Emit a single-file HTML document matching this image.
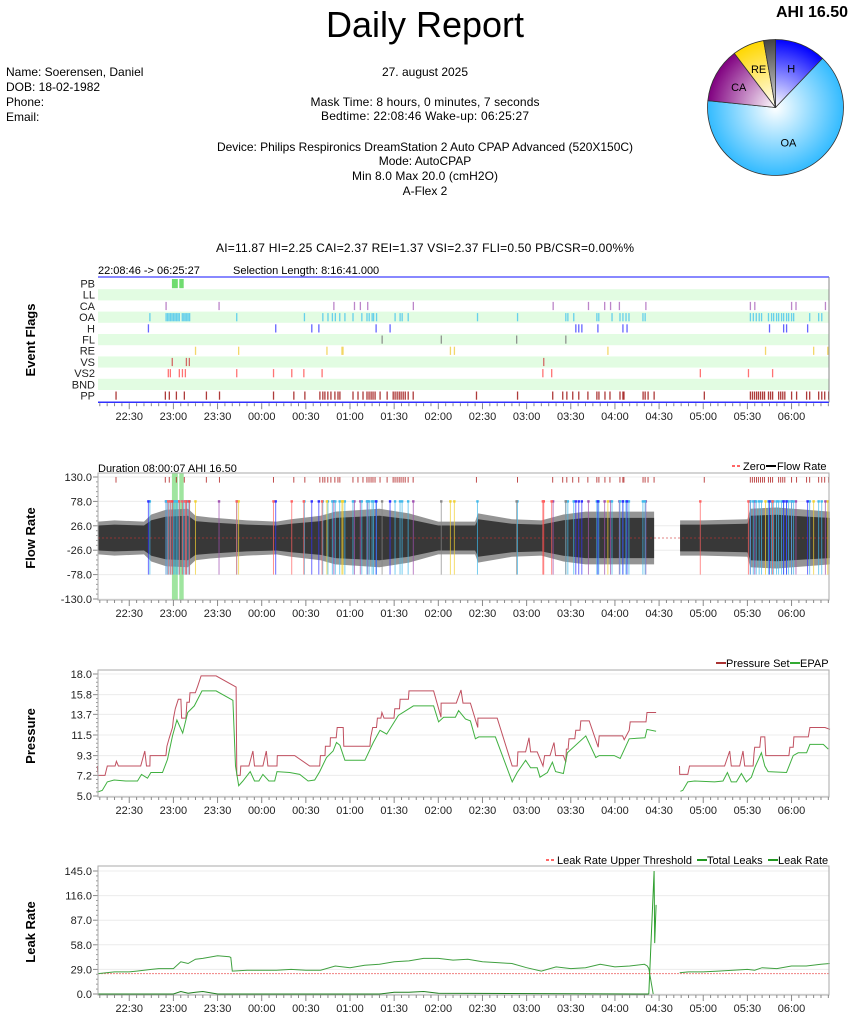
<!DOCTYPE html>
<html><head><meta charset="utf-8"><title>Daily Report</title>
<style>
html,body{margin:0;padding:0;background:#fff;}
svg{display:block;font-family:"Liberation Sans",sans-serif;}
.t{font-size:12px;fill:#000;}
.tick{font-size:11px;fill:#222;}
.yt{font-size:13px;font-weight:bold;fill:#000;}
</style></head><body>
<svg id="root" width="854" height="1021" viewBox="0 0 854 1021" xmlns="http://www.w3.org/2000/svg">
<defs>
<radialGradient id="gH" cx="0" cy="0" r="68" gradientUnits="userSpaceOnUse" gradientTransform="translate(775.5,107.5)"><stop offset="0" stop-color="#fff"/><stop offset="1" stop-color="#0000ff"/></radialGradient>
<radialGradient id="gOA" cx="0" cy="0" r="68" gradientUnits="userSpaceOnUse" gradientTransform="translate(775.5,107.5)"><stop offset="0" stop-color="#fff"/><stop offset="1" stop-color="#33bbff"/></radialGradient>
<radialGradient id="gCA" cx="0" cy="0" r="68" gradientUnits="userSpaceOnUse" gradientTransform="translate(775.5,107.5)"><stop offset="0" stop-color="#fff"/><stop offset="1" stop-color="#800080"/></radialGradient>
<radialGradient id="gRE" cx="0" cy="0" r="68" gradientUnits="userSpaceOnUse" gradientTransform="translate(775.5,107.5)"><stop offset="0" stop-color="#fff"/><stop offset="1" stop-color="#ffd700"/></radialGradient>
<radialGradient id="gFL" cx="0" cy="0" r="68" gradientUnits="userSpaceOnUse" gradientTransform="translate(775.5,107.5)"><stop offset="0" stop-color="#ddd"/><stop offset="1" stop-color="#444"/></radialGradient>
</defs>

<text x="425" y="37" text-anchor="middle" style="font-size:36px">Daily Report</text>
<text x="848" y="17" text-anchor="end" style="font-size:16px;font-weight:bold">AHI 16.50</text>

<text class="t" x="6" y="76">Name:  Soerensen, Daniel</text>
<text class="t" x="6" y="91">DOB: 18-02-1982</text>
<text class="t" x="6" y="106">Phone:</text>
<text class="t" x="6" y="121">Email:</text>

<text class="t" x="425" y="76" text-anchor="middle">27. august 2025</text>
<text class="t" x="425" y="106" text-anchor="middle" textLength="229">Mask Time: 8 hours, 0 minutes, 7 seconds</text>
<text class="t" x="425" y="120" text-anchor="middle" textLength="208">Bedtime: 22:08:46 Wake-up: 06:25:27</text>
<text class="t" x="425" y="151" text-anchor="middle" textLength="416">Device: Philips Respironics DreamStation 2 Auto CPAP Advanced (520X150C)</text>
<text class="t" x="425" y="165" text-anchor="middle">Mode: AutoCPAP</text>
<text class="t" x="425" y="180" text-anchor="middle" textLength="146">Min 8.0 Max 20.0 (cmH2O)</text>
<text class="t" x="425" y="195" text-anchor="middle">A-Flex 2</text>
<text class="t" x="425" y="252" text-anchor="middle" textLength="418">AI=11.87 HI=2.25 CAI=2.37 REI=1.37 VSI=2.37 FLI=0.50 PB/CSR=0.00%%</text>

<g id="pie"></g>

<text class="t" x="98" y="274" style="font-size:11px">22:08:46 -&gt; 06:25:27</text>
<text class="t" x="233" y="274" style="font-size:11px">Selection Length: 8:16:41.000</text>
<text class="yt" transform="translate(35,340) rotate(-90)" text-anchor="middle">Event Flags</text>
<g id="flags"></g>

<text class="t" x="98" y="472" style="font-size:11px">Duration 08:00:07 AHI 16.50</text>
<text class="yt" transform="translate(35,538) rotate(-90)" text-anchor="middle">Flow Rate</text>
<g>
<line x1="732" y1="466" x2="742" y2="466" stroke="#f33" stroke-dasharray="3,2" stroke-width="1.5"/>
<text class="t" x="743" y="470" style="font-size:11px">Zero</text>
<line x1="766" y1="466" x2="776" y2="466" stroke="#000" stroke-width="2"/>
<text class="t" x="777" y="470" style="font-size:11px">Flow Rate</text>
</g>
<g id="flow"></g>

<text class="yt" transform="translate(35,736) rotate(-90)" text-anchor="middle">Pressure</text>
<g>
<line x1="716" y1="663" x2="726" y2="663" stroke="#a33" stroke-width="2"/>
<text class="t" x="726" y="667" style="font-size:11px">Pressure Set</text>
<line x1="790" y1="663" x2="800" y2="663" stroke="#3a3" stroke-width="2"/>
<text class="t" x="800" y="667" style="font-size:11px">EPAP</text>
</g>
<g id="press"></g>

<text class="yt" transform="translate(35,932) rotate(-90)" text-anchor="middle">Leak Rate</text>
<g>
<line x1="546" y1="860" x2="556" y2="860" stroke="#f33" stroke-dasharray="3,2" stroke-width="1.5"/>
<text class="t" x="557" y="864" style="font-size:11px">Leak Rate Upper Threshold</text>
<line x1="697" y1="860" x2="707" y2="860" stroke="#292" stroke-width="2"/>
<text class="t" x="707" y="864" style="font-size:11px">Total Leaks</text>
<line x1="768" y1="860" x2="778" y2="860" stroke="#292" stroke-width="2"/>
<text class="t" x="778" y="864" style="font-size:11px">Leak Rate</text>
</g>
<g id="leak"></g>
</svg>

<script>
// ---------- data (times = minutes after 22:00) ----------
const pieLabels = ["H","OA","CA","RE","FL"];
const pieValues = [2.0, 10.6, 2.15, 1.24, 0.46];
const pieFills = ["url(#gH)","url(#gOA)","url(#gCA)","url(#gRE)","url(#gFL)"];

const flagRows = ["PB","LL","CA","OA","H","FL","RE","VS","VS2","BND","PP"];
const evCA = [55,91,169,183,187,192,223,318,342,353,357,363,381,452,455,480,483,503];
const evOA = [44,55,56,57,58,59,60,61,62,63,64,66,67,68,69,70,71,103,149,161.5,165,168,170,173,176.5,182,188,191.5,193,195,196,198,210.6,214,215.4,219.5,266.6,293.8,326.6,328,332,347.7,349,358,363.4,365.4,367.5,369.5,379,380.5,452,454,456,458,459.6,464.3,466.4,467.8,469.8,471.2,473.2,474.6,476.6,478,480,481.4,492.3,498.4,500.5];
const evH = [43,129.5,154,158.8,197.7,207.2,333.4,335.4,337.5,348.4,365.4,368.2,465,474.6,476.6,490.9];
const evFL = [201.8,242,293.2,326.6];
const evRE = [75,104.3,164.3,174.5,175.2,248.2,250.9,355.2,462.3,495,504.6];
const evVS = [59.2,68.8,70.8,311.6];
const evVS2 = [56.5,57.9,64,66.1,68.1,103,128,140.4,148.6,161,311,317,418,450.7,467.1];
const evPP = [21,54.5,57.2,62,67.4,82.4,91.3,128,141.8,149.3,159.5,161.5,162.9,164.9,167,169.7,171.8,173.1,182,185.4,188.8,191.5,192.9,194.3,195.6,197,200.4,205.2,209.3,210.6,212,213.4,214.7,216.1,217.5,219.5,222.9,265.9,293.8,317.7,324.5,327.3,331.3,335.4,341.6,347.7,349.1,353.2,356.6,363.4,365.4,366.1,379.1,380.5,382.5,386.6,420.7,452,453.4,454.8,456.2,457.5,458.9,460.3,461.6,464.3,465.7,467.1,471.2,472.6,474,475.4,480,483.4,490.2,492.3,498.4,500.5,502.5,505.2];
const evPBStart = [59,64];
const evPBEnd = [63,67];

const flowEnvT = [9,20,40,45,55,70,75,85,100,110,130,140,160,170,200,220,240,265,267,290,310,325,340,360,386.6,null,404.3,420,450,452,470,490,506];
const flowEnvA = [28,30,28,40,48,50,38,35,32,30,28,32,38,45,50,42,28,28,42,32,30,40,45,45,45,null,30,30,32,50,52,48,45];

const psT = [8.3,8.8,13.5,15.1,20.4,21.3,22.6,37.8,40.6,41.7,
 44,44.2,54.9,55.6,57.2,59.4,60.1,61.3,63.3,65.1,
 65.6,68.5,69.2,70.8,71.3,74.9,76.5,78.8,89,102.6,
 103.1,105.4,105.8,111.3,114,115.1,120.8,123.1,124.2,130.4,
 130.6,142.4,152.6,159.4,159.9,163,163.3,166.5,166.7,170.6,
 171.3,175.4,175.8,193.5,194,195.4,198,198.6,201,201.7,
 203.1,209.9,210.4,213.6,214,219.7,220.1,236.8,241.8,241.9,
 252.2,255.4,256.8,261.8,266.8,266.9,280,290.2,293.6,294.1,
 299.3,301.6,302.7,307.2,311.1,312.2,315.9,318.6,319.7,325,
 326.6,327,328.2,328.8,332.7,333.4,336.3,336.8,342.5,348.6,
 349.3,365.2,366.3,369.7,370.4,381.1,381.8,388,null,403.9,
 404,409.5,410.7,434.5,438,439.1,444.8,447,448.2,453.9,
 454.5,455,458.4,459.1,461.8,462.5,478.2,478.9,481.1,481.6,
 491.4,492.5,502.7,506.1];
const psV = [8.2,7.2,7.2,8.2,8.2,8.7,8.2,8.2,9.8,8.2,
 8.2,9.3,9.3,10.3,11.2,12.3,13.3,14.3,15.3,15.3,
 13.3,13.3,15.0,15.0,16.0,16.0,16.7,17.8,17.8,16.6,
 7.2,7.2,8.2,8.2,9.8,8.2,8.2,9.8,8.2,8.2,
 9.3,9.3,8.2,8.2,9.3,9.3,10.3,10.3,11.2,11.2,
 12.3,12.3,10.3,10.3,11.2,12.3,12.3,13.3,13.3,13.9,
 13.3,13.3,14.3,14.3,15.3,15.3,16.2,16.2,13.4,14.9,
 14.9,16.3,14.9,14.9,12.3,13.3,13.3,8.2,8.2,9.7,
 9.7,11.2,9.7,9.7,8.2,9.3,9.3,10.7,9.3,9.3,
 8.6,10.0,10.0,11.1,11.1,12.0,12.0,13.0,13.0,10.2,
 11.4,11.4,11.0,12.0,12.9,12.9,13.9,13.9,null,8.2,
 7.3,7.3,8.2,8.2,9.8,8.2,8.2,9.8,8.2,8.2,
 9.5,10.2,10.2,11.3,11.3,9.3,9.3,10.2,10.2,11.3,
 11.3,12.3,12.3,12.1];
const epT = [8.3,11.7,15.1,19.7,27.6,35.6,38.3,42.4,44.7,52.6,
 56,59.4,62.4,66.3,69.7,74.2,79.4,89,100.4,102.2,
 104.4,107.2,112.2,115.1,118.1,120.8,124.9,128.8,130.4,139,
 145.8,151.5,156,159.4,164,168.5,170.8,173.1,176.5,190.1,
 195.8,200.4,204.9,212.9,223.1,236.8,240.2,243.6,251.6,253.8,
 258.4,261.8,265.2,267.5,278.8,290.2,293.6,299.3,302.7,307.2,
 309.1,314.1,317.5,319.7,325,327.7,340.2,347,349.3,359.5,
 363.6,369.7,380.4,381.8,388,null,404.5,406.1,409.5,414.1,
 427.7,433.4,436.4,439.1,442.5,445.9,449.3,452.7,455,459.5,
 461.8,464.1,476.6,481.1,484.5,490.2,492.5,501.6,505];
const epV = [5.4,5.6,6.5,6.7,6.6,6.6,7.3,6.9,7.5,7.5,
 8.9,11.4,13.1,11.7,13.9,14.6,16.2,16.2,15.2,8.2,
 6.1,6.6,7.6,6.6,6.6,7.3,6.6,6.6,7.6,7.5,
 7.3,6.6,6.7,7.6,9.1,9.8,10.7,10.4,8.8,8.8,
 10.7,12.0,11.6,13.6,14.6,14.6,12.9,13.4,13.4,14.1,
 13.2,13.0,11.1,11.3,11.3,6.5,7.5,8.8,8.0,8.0,
 7.0,7.5,8.6,7.6,7.4,9.6,11.4,9.1,9.3,9.3,
 9.0,11.1,11.2,12.1,11.9,null,5.5,5.6,6.5,6.6,
 6.5,6.6,7.5,6.5,6.5,7.4,6.5,7.0,8.0,9.6,
 8.2,7.6,7.5,9.3,9.6,9.6,10.5,10.5,10.0];

const leakT = [9,20,30,35,40,45,50,55,60,65,70,75,80,90,98,99,100,110,120,130,140,150,160,170,180,190,200,210,220,230,240,250,260,270,280,290,300,310,320,330,340,350,360,370,380,382,383,386,null,404,410,420,430,440,450,455,460,470,480,490,500,506];
const leakV = [24,26,26,27,28,29,30,30,30,38,36,41,42,45,44,43,27,28,28,28,29,28,28,33,31,34,35,38,39,42,42,40,41,38,37,36,31,27,32,30,31,35,32,33,35,33,30,0,null,25,26,26,27,28,29,28,31,30,33,33,35,36];
const leakSpikeT = [383,386.6,387,388];
const leakSpikeV = [0,145,60,105];
const leakRateT = [9,60,65,70,75,80,90,200,210,220,230,240,383];
const leakRateV = [0,0,3,1,2,3,0,0,2,2,3,1,0];
const leakThreshold = 24;

const timeTicks = ["22:30","23:00","23:30","00:00","00:30","01:00","01:30","02:00","02:30","03:00","03:30","04:00","04:30","05:00","05:30","06:00"];
const flowTicks = [130,78,26,-26,-78,-130];
const pressTicks = [18.0,15.8,13.7,11.5,9.3,7.2,5.0];
const leakTicks = [145,116,87,58,29,0];

// ---------- helpers ----------
const NS = "http://www.w3.org/2000/svg";
const X0 = 98, X1 = 829, T0 = 8.77, T1 = 505.45;
function xOf(t){ return X0 + (t - T0) * (X1 - X0) / (T1 - T0); }
function mk(tag, attrs, parent){
  const e = document.createElementNS(NS, tag);
  for (const k in attrs) e.setAttribute(k, attrs[k]);
  parent.appendChild(e); return e;
}
function tickMin(s){ let h = +s.slice(0,2), m = +s.slice(3); if (h < 12) h += 24; return (h - 22) * 60 + m; }

function timeAxis(g, yBase, name){
  const ax = mk("g", {}, g);
  
  
  for (let m = 10; m <= 505; m += 5) {
    const major = m % 30 === 0;
    mk("line", {x1: xOf(m), x2: xOf(m), y1: yBase, y2: yBase + (major ? 6 : 3), stroke: "#888", "stroke-width": 1}, ax);
  }
  timeTicks.forEach(s => {
    const tx = mk("text", {x: xOf(tickMin(s)), y: yBase + 17, "text-anchor": "middle", class: "tick"}, ax);
    
    
    tx.textContent = s;
  });
}
function yAxis(g, ticks, yOf, fmt, name){
  const ax = mk("g", {}, g);
  
  
  ticks.forEach(v => {
    const y = yOf(v);
    mk("line", {x1: X0, x2: X1, y1: y, y2: y, stroke: "#ececec", "stroke-width": 1}, ax);
    mk("line", {x1: X0 - 5, x2: X0, y1: y, y2: y, stroke: "#888"}, ax);
    const tx = mk("text", {x: X0 - 6, y: y + 4, "text-anchor": "end", class: "tick"}, ax);
    
    
    tx.textContent = fmt(v);
  });
  for (let i = 0; i < ticks.length - 1; i++) {
    const ya = yOf(ticks[i]), yb = yOf(ticks[i + 1]);
    for (let k = 1; k < 5; k++) { const y = ya + (yb - ya) * k / 5; mk("line", {x1: X0 - 2, x2: X0, y1: y, y2: y, stroke: "#999"}, ax); }
  }
}
function pathOf(ts, vs, yOf){
  let d = "", pen = false;
  for (let i = 0; i < ts.length; i++) {
    if (ts[i] === null) { pen = false; continue; }
    d += (pen ? "L" : "M") + xOf(ts[i]).toFixed(1) + "," + yOf(vs[i]).toFixed(1);
    pen = true;
  }
  return d;
}

// ---------- pie ----------
(function(){
  const g = document.getElementById("pie");
  const cx = 775.5, cy = 107.5, r = 68;
  const tot = pieValues.reduce((a, b) => a + b, 0);
  let a0 = 0;
  pieValues.forEach((v, i) => {
    const a1 = a0 + v / tot * Math.PI * 2;
    const p0 = [cx + r * Math.sin(a0), cy - r * Math.cos(a0)], p1 = [cx + r * Math.sin(a1), cy - r * Math.cos(a1)];
    const s = mk("path", {d: `M${cx},${cy}L${p0[0]},${p0[1]}A${r},${r} 0 ${a1 - a0 > Math.PI ? 1 : 0} 1 ${p1[0]},${p1[1]}Z`, fill: pieFills[i], stroke: "#333", "stroke-width": 0.8}, g);
    
    
    if (pieLabels[i] !== "FL") {
      const am = (a0 + a1) / 2, rr = pieLabels[i] === "OA" ? 0.55 : 0.62;
      const tx = mk("text", {x: cx + r * rr * Math.sin(am), y: cy - r * rr * Math.cos(am) + 4, "text-anchor": "middle", style: "font-size:11px"}, g);
      
      
      tx.textContent = pieLabels[i];
    }
    a0 = a1;
  });
})();

// ---------- event flags ----------
(function(){
  const g = document.getElementById("flags");
  const top = 278, rh = 11.2, bot = top + rh * 11;
  const evMap = {CA: [evCA, "#b070c0"], OA: [evOA, "#50c8ec"], H: [evH, "#4a4aff"], FL: [evFL, "#808080"], RE: [evRE, "#f0d050"], VS: [evVS, "#d05050"], VS2: [evVS2, "#ff5a5a"], PP: [evPP, "#a01818"]};
  flagRows.forEach((name, i) => {
    const y = top + i * rh;
    if (i % 2 === 1) mk("rect", {x: X0, y: y, width: X1 - X0, height: rh, fill: "#e2fce2"}, g);
    const tx = mk("text", {x: 95, y: y + 9.5, "text-anchor": "end", class: "tick"}, g);
    
    
    tx.textContent = name;
    if (evMap[name]) {
      const [arr, col] = evMap[name];
      arr.forEach(t => {
        const ln = mk("rect", {x: xOf(t) - 0.6, y: y + 1.5, width: 1.3, height: rh - 3, fill: col, opacity: 0.85}, g);
        
        
      });
    }
  });
  evPBStart.forEach((s, i) => {
    const r = mk("rect", {x: xOf(s), y: top + 1, width: xOf(evPBEnd[i]) - xOf(s), height: rh - 2, fill: "#70dc70"}, g);
    
    
  });
  mk("line", {x1: X0, x2: X1, y1: top - 1, y2: top - 1, stroke: "#6060ff", "stroke-width": 1.5}, g);
  mk("line", {x1: X0, x2: X1, y1: bot + 1, y2: bot + 1, stroke: "#3030ff", "stroke-width": 1.5}, g);
  mk("line", {x1: X1, x2: X1, y1: top - 1, y2: bot + 1, stroke: "#888"}, g);
  timeAxis(g, bot + 2, "event-flags-x-axis");
})();

// ---------- flow rate ----------
(function(){
  const g = document.getElementById("flow");
  const yTop = 477, yBot = 599;
  const yOf = v => yTop + (130 - v) * (yBot - yTop) / 260;
  yAxis(g, flowTicks, yOf, v => v.toFixed(1), "flow-y-axis");
  evPBStart.forEach((s, i) => {
    const r = mk("rect", {x: xOf(s), y: 473, width: xOf(evPBEnd[i]) - xOf(s), height: 127, fill: "#8ee08e", opacity: 0.85}, g);
    
    
  });
  const segs = [[]];
  flowEnvT.forEach((t, i) => { if (t === null) segs.push([]); else segs[segs.length - 1].push(i); });
  segs.forEach(idx => {
    [[1.25, "#666"], [0.95, "#383838"]].forEach(([k, col]) => {
      let d = "";
      idx.forEach((i, j) => { d += (j ? "L" : "M") + xOf(flowEnvT[i]).toFixed(1) + "," + yOf(flowEnvA[i] * k).toFixed(1); });
      for (let j = idx.length - 1; j >= 0; j--) { const i = idx[j]; d += "L" + xOf(flowEnvT[i]).toFixed(1) + "," + yOf(-flowEnvA[i] * k).toFixed(1); }
      const p = mk("path", {d: d + "Z", fill: col, opacity: k > 1 ? 0.7 : 1}, g);
      
      
    });
  });
  mk("line", {x1: X0, x2: X1, y1: yOf(0), y2: yOf(0), stroke: "#c33", "stroke-dasharray": "2,2", "stroke-width": 0.7, opacity: 0.8}, g);
  const evs = [[evCA, "#a050b0"], [evOA, "#40b8ea"], [evH, "#3030ff"], [evRE, "#f0d030"], [evVS, "#ff4040"], [evVS2, "#ff6060"], [evFL, "#888"]];
  evs.forEach(([arr, col]) => arr.forEach(t => {
    const ln = mk("line", {x1: xOf(t), x2: xOf(t), y1: yOf(78), y2: yOf(-78), stroke: col, "stroke-width": 1, opacity: 0.7}, g);
    
    
    mk("rect", {x: xOf(t) - 1.2, y: yOf(78) - 1.2, width: 2.4, height: 2.4, fill: col}, g);
  }));
  evPP.forEach(t => {
    const ln = mk("line", {x1: xOf(t), x2: xOf(t), y1: yOf(130), y2: yOf(118), stroke: "#b02020", "stroke-width": 1, opacity: 0.8}, g);
    
    
  });
  mk("rect", {x: X0, y: 473, width: X1 - X0, height: 127, fill: "none", stroke: "#aaa"}, g);
  timeAxis(g, 600, "flow-x-axis");
})();

// ---------- pressure ----------
(function(){
  const g = document.getElementById("press");
  const yOf = v => 674 + (18 - v) * 122 / 13;
  yAxis(g, pressTicks, yOf, v => v.toFixed(1), "pressure-y-axis");
  const ps = mk("path", {d: pathOf(psT, psV, yOf), fill: "none", stroke: "#c05060", "stroke-width": 1}, g);
  
  
  const ep = mk("path", {d: pathOf(epT, epV, yOf), fill: "none", stroke: "#40b040", "stroke-width": 1}, g);
  
  
  mk("rect", {x: X0, y: 670, width: X1 - X0, height: 127, fill: "none", stroke: "#aaa"}, g);
  timeAxis(g, 797, "pressure-x-axis");
})();

// ---------- leak ----------
(function(){
  const g = document.getElementById("leak");
  const yOf = v => 871 + (145 - v) * 123 / 145;
  yAxis(g, leakTicks, yOf, v => v.toFixed(1), "leak-y-axis");
  mk("line", {x1: X0, x2: X1, y1: yOf(leakThreshold), y2: yOf(leakThreshold), stroke: "#f08080", "stroke-dasharray": "2,1", "stroke-width": 1}, g);
  const tl = mk("path", {d: pathOf(leakT, leakV, yOf), fill: "none", stroke: "#40a040", "stroke-width": 1}, g);
  
  
  const sp = mk("path", {d: pathOf(leakSpikeT, leakSpikeV, yOf), fill: "none", stroke: "#30a030", "stroke-width": 1}, g);
  
  
  const lr = mk("path", {d: pathOf(leakRateT, leakRateV, yOf), fill: "none", stroke: "#208020", "stroke-width": 1}, g);
  
  
  mk("rect", {x: X0, y: 866, width: X1 - X0, height: 129, fill: "none", stroke: "#aaa"}, g);
  timeAxis(g, 995, "leak-x-axis");
})();
</script>
</body></html>
